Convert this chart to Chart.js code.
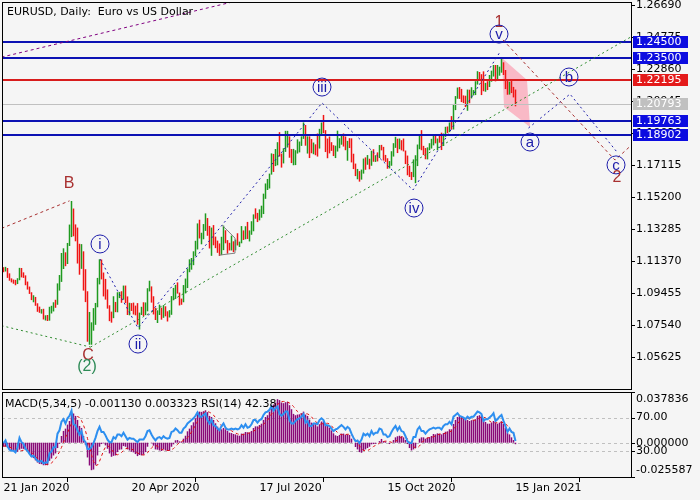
<!DOCTYPE html>
<html>
<head>
<meta charset="utf-8">
<script src="https://cdn.jsdelivr.net/npm/chart.js@4.4.1/dist/chart.umd.min.js"></script>
<style>
html, body { margin: 0; padding: 0; background: #f5f5f5; }
#wrap { position: relative; width: 700px; height: 500px; overflow: hidden; }
canvas { position: absolute; left: 0; }
#main { top: 0; }
#sub { top: 390px; }
</style>
</head>
<body>
<div id="wrap">
  <canvas id="main" width="700" height="390"></canvas>
  <canvas id="sub" width="700" height="110"></canvas>
</div>
<script>
// EURUSD daily, 21 Jan 2020 .. 15 Jan 2021 (one value per bar)
const dateLabels = ['21 Jan 2020', '20 Apr 2020', '17 Jul 2020', '15 Oct 2020', '15 Jan 2021'];
const dateTickIndex = [0, 64, 128, 192, 256];
const priceTicks = [1.05625, 1.07540, 1.09455, 1.11370, 1.13285, 1.15200, 1.17115, 1.19030, 1.20945, 1.22860, 1.24775, 1.26690];

const open = [
  1.1094,1.1083,1.1093,1.1054,1.1025,1.1020,1.1019,1.1008,1.1030,
  1.1093,1.1060,1.1044,1.0998,1.0981,1.0944,1.0910,1.0915,1.0874,1.0841,1.0830,1.0837,1.0790,1.0795,
  1.0789,1.0846,1.0854,1.0880,1.0880,1.0995,
  1.1026,1.1138,1.1174,1.1134,1.1237,1.1284,
  1.1450,1.1285,1.1270,1.1186,1.1106,1.1186,1.0990,1.0920,1.0690,1.0695,
  1.0720,1.0790,1.0880,1.1030,1.1140,1.1040,
  1.1030,1.0960,1.0855,1.0800,1.0795,1.0890,1.0855,1.0935,1.0940,1.0915,1.0985,1.0910,1.0840,
  1.0875,1.0860,1.0855,1.0820,1.0780,1.0820,1.0825,1.0820,1.0875,
  1.0955,1.0980,1.0905,1.0840,1.0795,1.0830,1.0840,1.0805,1.0850,1.0815,1.0805,
  1.0820,1.0915,1.0925,1.0975,1.0945,1.0900,1.0900,1.0980,1.1005,1.1075,
  1.1100,1.1135,1.1170,1.1235,1.1340,1.1290,1.1295,1.1340,1.1375,1.1300,
  1.1255,1.1325,1.1265,1.1245,1.1205,1.1175,1.1255,1.1310,1.1250,1.1220,1.1220,1.1245,
  1.1235,1.1250,1.1240,1.1245,1.1310,1.1275,1.1330,1.1285,1.1300,1.1340,1.1410,1.1410,1.1385,
  1.1430,1.1445,1.1525,1.1570,1.1595,1.1655,1.1750,1.1715,1.1790,1.1845,
  1.1775,1.1760,1.1800,1.1860,1.1875,1.1785,1.1735,1.1740,1.1785,1.1815,1.1840,1.1870,1.1930,1.1835,1.1860,1.1795,1.1795,1.1830,1.1830,1.1820,1.1905,
  1.1935,1.1915,1.1855,1.1850,1.1840,1.1815,1.1780,1.1800,1.1815,1.1845,1.1865,1.1845,1.1815,1.1850,1.1835,1.1770,1.1705,1.1660,1.1670,1.1630,1.1665,1.1745,
  1.1720,1.1745,1.1715,1.1780,1.1735,1.1760,1.1760,1.1825,1.1815,1.1745,1.1745,1.1705,1.1720,1.1780,1.1820,1.1860,1.1815,1.1860,1.1810,1.1795,1.1745,1.1675,
  1.1645,1.1640,1.1715,1.1720,1.1830,1.1875,1.1815,1.1810,1.1775,1.1810,1.1835,1.1855,1.1860,1.1850,1.1870,1.1860,1.1840,1.1890,1.1915,1.1915,1.1960,
  1.1925,1.2070,1.2115,1.2145,1.2120,1.2110,1.2100,1.2080,1.2130,1.2110,1.2145,1.2150,1.2195,1.2265,1.2255,1.2240,1.2160,1.2185,1.2185,1.2215,1.2250,1.2295,
  1.2215,1.2250,1.2295,1.2325,1.2270,1.2220,1.2150,1.2205,1.2155,1.2155
];
const high = [
  1.1100,1.1102,1.1095,1.1063,1.1033,1.1026,1.1024,1.1034,1.1096,
  1.1095,1.1069,1.1051,1.1014,1.0984,1.0950,1.0932,1.0922,1.0884,1.0864,1.0849,1.0851,1.0812,1.0814,
  1.0863,1.0869,1.0890,1.0905,1.1003,1.1053,
  1.1185,1.1213,1.1189,1.1245,1.1355,1.1496,
  1.1451,1.1356,1.1337,1.1240,1.1238,1.1195,1.1088,1.0956,1.0832,1.0770,
  1.0855,1.0886,1.1036,1.1147,1.1146,1.1068,
  1.1030,1.0967,1.0872,1.0834,1.0926,1.0892,1.0950,1.0952,1.0956,1.0990,1.0990,1.0925,1.0887,
  1.0885,1.0888,1.0870,1.0885,1.0828,1.0863,1.0890,1.0889,1.0974,
  1.1019,1.0985,1.0926,1.0857,1.0842,1.0876,1.0858,1.0873,1.0866,1.0836,1.0843,
  1.0927,1.0976,1.0994,1.1009,1.0948,1.0912,1.0993,1.1032,1.1092,1.1147,
  1.1155,1.1195,1.1258,1.1362,1.1384,1.1306,1.1358,1.1422,1.1394,1.1347,
  1.1337,1.1352,1.1283,1.1259,1.1242,1.1282,1.1349,1.1321,1.1262,1.1246,1.1289,1.1255,
  1.1265,1.1303,1.1253,1.1346,1.1320,1.1345,1.1371,1.1320,1.1375,1.1416,1.1452,1.1425,1.1446,
  1.1468,1.1540,1.1601,1.1628,1.1660,1.1781,1.1778,1.1807,1.1848,1.1908,
  1.1780,1.1812,1.1916,1.1916,1.1883,1.1807,1.1808,1.1800,1.1865,1.1852,1.1883,1.1966,1.1951,1.1883,1.1883,1.1867,1.1846,1.1835,1.1900,1.1928,1.1966,
  1.2011,1.1920,1.1870,1.1882,1.1848,1.1830,1.1827,1.1917,1.1872,1.1888,1.1900,1.1882,1.1856,1.1872,1.1871,1.1779,1.1720,1.1688,1.1675,1.1684,1.1750,1.1757,
  1.1771,1.1749,1.1797,1.1806,1.1770,1.1787,1.1831,1.1832,1.1820,1.1772,1.1752,1.1735,1.1794,1.1842,1.1880,1.1869,1.1870,1.1860,1.1870,1.1798,1.1768,1.1707,
  1.1670,1.1745,1.1770,1.1834,1.1891,1.1920,1.1826,1.1813,1.1817,1.1842,1.1868,1.1894,1.1891,1.1870,1.1890,1.1905,1.1900,1.1940,1.1942,1.1966,1.2004,
  1.2077,1.2124,1.2175,1.2178,1.2167,1.2128,1.2126,1.2163,1.2162,1.2177,1.2160,1.2213,1.2273,1.2268,1.2255,1.2272,1.2203,1.2213,1.2250,1.2276,1.2310,1.2310,
  1.2310,1.2300,1.2349,1.2326,1.2280,1.2221,1.2210,1.2222,1.2179,1.2163
];
const low = [
  1.1070,1.1074,1.1036,1.1019,1.1009,1.1001,1.0992,1.0999,1.1022,
  1.1039,1.1036,1.0992,1.0966,1.0940,1.0903,1.0890,1.0869,1.0833,1.0827,1.0822,1.0787,1.0781,1.0778,
  1.0780,1.0823,1.0835,1.0857,1.0875,1.0960,
  1.1012,1.1089,1.1106,1.1119,1.1227,1.1280,
  1.1285,1.1255,1.1122,1.1055,1.1090,1.0960,1.0891,1.0654,1.0636,1.0636,
  1.0720,1.0755,1.0860,1.0997,1.1027,1.0925,
  1.0906,1.0852,1.0777,1.0768,1.0795,1.0831,1.0830,1.0915,1.0887,1.0905,1.0885,1.0814,1.0812,
  1.0838,1.0817,1.0812,1.0756,1.0727,1.0814,1.0808,1.0813,1.0836,
  1.0955,1.0888,1.0817,1.0784,1.0766,1.0814,1.0786,1.0797,1.0806,1.0775,1.0799,
  1.0815,1.0902,1.0910,1.0942,1.0871,1.0875,1.0890,1.0943,1.0975,1.1070,
  1.1085,1.1112,1.1165,1.1206,1.1272,1.1237,1.1267,1.1317,1.1288,1.1212,
  1.1168,1.1231,1.1214,1.1186,1.1167,1.1172,1.1202,1.1243,1.1181,1.1200,1.1200,1.1190,
  1.1201,1.1230,1.1221,1.1243,1.1263,1.1267,1.1269,1.1254,1.1294,1.1315,1.1390,1.1370,1.1380,
  1.1396,1.1418,1.1509,1.1562,1.1571,1.1654,1.1670,1.1705,1.1710,1.1762,
  1.1696,1.1721,1.1790,1.1816,1.1755,1.1723,1.1710,1.1711,1.1780,1.1787,1.1826,1.1868,1.1827,1.1780,1.1753,1.1782,1.1776,1.1770,1.1762,1.1810,1.1890,
  1.1902,1.1789,1.1752,1.1781,1.1796,1.1765,1.1753,1.1792,1.1812,1.1833,1.1822,1.1800,1.1737,1.1813,1.1727,1.1687,1.1645,1.1626,1.1612,1.1624,1.1660,1.1683,
  1.1713,1.1686,1.1707,1.1731,1.1730,1.1733,1.1753,1.1799,1.1738,1.1730,1.1689,1.1691,1.1707,1.1762,1.1814,1.1783,1.1806,1.1799,1.1793,1.1717,1.1650,1.1640,
  1.1622,1.1639,1.1603,1.1705,1.1806,1.1800,1.1771,1.1746,1.1745,1.1800,1.1810,1.1829,1.1841,1.1800,1.1845,1.1801,1.1825,1.1880,1.1902,1.1908,1.1924,
  1.1924,1.2040,1.2108,1.2107,1.2088,1.2082,1.2058,1.2036,1.2081,1.2110,1.2128,1.2130,1.2193,1.2223,1.2130,1.2153,1.2150,1.2160,1.2178,1.2210,1.2241,1.2212,
  1.2215,1.2246,1.2264,1.2250,1.2166,1.2132,1.2133,1.2142,1.2116,1.2063
];
const close = [
  1.1083,1.1093,1.1054,1.1025,1.1020,1.1019,1.1008,1.1030,1.1093,
  1.1060,1.1044,1.0998,1.0981,1.0944,1.0910,1.0915,1.0874,1.0841,1.0830,1.0837,1.0790,1.0795,1.0789,
  1.0846,1.0854,1.0880,1.0880,1.0995,1.1026,
  1.1138,1.1174,1.1134,1.1237,1.1284,1.1450,
  1.1285,1.1270,1.1186,1.1106,1.1186,1.0990,1.0920,1.0690,1.0695,1.0720,
  1.0790,1.0880,1.1030,1.1140,1.1040,1.1030,
  1.0960,1.0855,1.0800,1.0795,1.0890,1.0855,1.0935,1.0940,1.0915,1.0985,1.0910,1.0840,1.0875,
  1.0860,1.0855,1.0820,1.0780,1.0820,1.0825,1.0820,1.0875,1.0955,
  1.0980,1.0905,1.0840,1.0795,1.0830,1.0840,1.0805,1.0850,1.0815,1.0805,1.0820,
  1.0915,1.0925,1.0975,1.0945,1.0900,1.0900,1.0980,1.1005,1.1075,1.1100,
  1.1135,1.1170,1.1235,1.1340,1.1290,1.1295,1.1340,1.1375,1.1300,1.1255,
  1.1325,1.1265,1.1245,1.1205,1.1175,1.1255,1.1310,1.1250,1.1220,1.1220,1.1245,1.1235,
  1.1250,1.1240,1.1245,1.1310,1.1275,1.1330,1.1285,1.1300,1.1340,1.1410,1.1410,1.1385,1.1430,
  1.1445,1.1525,1.1570,1.1595,1.1655,1.1750,1.1715,1.1790,1.1845,1.1775,
  1.1760,1.1800,1.1860,1.1875,1.1785,1.1735,1.1740,1.1785,1.1815,1.1840,1.1870,1.1930,1.1835,1.1860,1.1795,1.1795,1.1830,1.1830,1.1820,1.1905,1.1935,
  1.1915,1.1855,1.1850,1.1840,1.1815,1.1780,1.1800,1.1815,1.1845,1.1865,1.1845,1.1815,1.1850,1.1835,1.1770,1.1705,1.1660,1.1670,1.1630,1.1665,1.1745,1.1720,
  1.1745,1.1715,1.1780,1.1735,1.1760,1.1760,1.1825,1.1815,1.1745,1.1745,1.1705,1.1720,1.1780,1.1820,1.1860,1.1815,1.1860,1.1810,1.1795,1.1745,1.1675,1.1645,
  1.1640,1.1715,1.1720,1.1830,1.1875,1.1815,1.1810,1.1775,1.1810,1.1835,1.1855,1.1860,1.1850,1.1870,1.1860,1.1840,1.1890,1.1915,1.1915,1.1960,1.1925,
  1.2070,1.2115,1.2145,1.2120,1.2110,1.2100,1.2080,1.2130,1.2110,1.2145,1.2150,1.2195,1.2265,1.2255,1.2240,1.2160,1.2185,1.2185,1.2215,1.2250,1.2295,1.2215,
  1.2250,1.2295,1.2325,1.2270,1.2220,1.2150,1.2205,1.2155,1.2153,1.20793
];

// MACD(5,34,5) main (histogram), signal, RSI(14)
const macdMain = [
  -0.0030,-0.0029,-0.0035,-0.0045,-0.0055,-0.0062,-0.0068,-0.0068,-0.0052,
  -0.0045,-0.0046,-0.0055,-0.0068,-0.0085,-0.0105,-0.0115,-0.0132,-0.0148,-0.0158,-0.0160,-0.0168,-0.0168,-0.0167,
  -0.0135,-0.0118,-0.0095,-0.0080,-0.0040,-0.0008,
  0.0050,0.0088,0.0105,0.0135,0.0162,0.0225,
  0.0218,0.0200,0.0170,0.0125,0.0110,0.0050,-0.0015,-0.0110,-0.0170,-0.0205,
  -0.0200,-0.0165,-0.0095,-0.0030,-0.0010,-0.0005,
  -0.0020,-0.0045,-0.0080,-0.0105,-0.0098,-0.0095,-0.0070,-0.0052,-0.0050,-0.0025,-0.0030,-0.0050,-0.0058,
  -0.0068,-0.0072,-0.0085,-0.0100,-0.0092,-0.0095,-0.0090,-0.0070,-0.0030,
  0.0000,-0.0005,-0.0022,-0.0050,-0.0052,-0.0058,-0.0062,-0.0050,-0.0058,-0.0062,-0.0060,
  -0.0030,-0.0012,0.0018,0.0020,0.0010,0.0008,0.0030,0.0052,0.0085,0.0105,
  0.0130,0.0152,0.0182,0.0225,0.0232,0.0230,0.0235,0.0242,0.0228,0.0200,
  0.0192,0.0170,0.0145,0.0120,0.0095,0.0100,0.0110,0.0100,0.0088,0.0075,0.0072,0.0065,
  0.0062,0.0055,0.0052,0.0068,0.0068,0.0080,0.0078,0.0075,0.0088,0.0110,0.0122,0.0122,0.0132,
  0.0142,0.0170,0.0192,0.0205,0.0232,0.0270,0.0285,0.0300,0.0325,0.0318,
  0.0300,0.0295,0.0302,0.0305,0.0280,0.0250,0.0215,0.0205,0.0210,0.0212,0.0220,0.0232,0.0210,0.0200,0.0172,0.0150,0.0142,0.0138,0.0122,0.0138,0.0158,
  0.0160,0.0140,0.0128,0.0112,0.0092,0.0070,0.0055,0.0050,0.0058,0.0068,0.0068,0.0060,0.0062,0.0058,0.0030,0.0000,-0.0032,-0.0050,-0.0070,-0.0075,-0.0060,-0.0050,
  -0.0040,-0.0030,-0.0012,-0.0010,-0.0008,0.0000,0.0012,0.0028,0.0012,0.0010,0.0000,-0.0010,0.0002,0.0020,0.0040,0.0048,0.0052,0.0048,0.0040,0.0020,-0.0010,-0.0040,
  -0.0058,-0.0050,-0.0040,0.0000,0.0030,0.0040,0.0040,0.0030,0.0038,0.0042,0.0050,0.0065,0.0062,0.0070,0.0068,0.0062,0.0072,0.0082,0.0085,0.0100,0.0100,
  0.0140,0.0170,0.0192,0.0200,0.0192,0.0182,0.0172,0.0170,0.0162,0.0168,0.0170,0.0175,0.0200,0.0205,0.0200,0.0172,0.0155,0.0142,0.0142,0.0150,0.0162,0.0150,
  0.0142,0.0150,0.0160,0.0142,0.0110,0.0072,0.0062,0.0040,0.0020,-0.00113
];
const macdSignal = [
  -0.0025,-0.0026,-0.0028,-0.0032,-0.0039,-0.0045,-0.0053,-0.0060,-0.0061,
  -0.0059,-0.0056,-0.0053,-0.0053,-0.0060,-0.0072,-0.0086,-0.0101,-0.0117,-0.0132,-0.0143,-0.0153,-0.0160,-0.0164,
  -0.0160,-0.0151,-0.0137,-0.0119,-0.0094,-0.0068,
  -0.0035,0.0002,0.0039,0.0074,0.0108,0.0143,
  0.0169,0.0188,0.0195,0.0188,0.0165,0.0131,0.0088,0.0032,-0.0027,-0.0090,
  -0.0140,-0.0170,-0.0167,-0.0139,-0.0100,-0.0061,
  -0.0032,-0.0022,-0.0032,-0.0051,-0.0070,-0.0085,-0.0090,-0.0084,-0.0073,-0.0058,-0.0045,-0.0041,-0.0043,
  -0.0046,-0.0056,-0.0067,-0.0077,-0.0083,-0.0089,-0.0092,-0.0089,-0.0075,
  -0.0057,-0.0039,-0.0025,-0.0021,-0.0026,-0.0037,-0.0049,-0.0054,-0.0056,-0.0058,-0.0058,
  -0.0052,-0.0044,-0.0029,-0.0013,0.0001,0.0009,0.0017,0.0024,0.0037,0.0056,
  0.0080,0.0105,0.0131,0.0159,0.0184,0.0204,0.0221,0.0233,0.0233,0.0227,
  0.0219,0.0206,0.0187,0.0165,0.0144,0.0126,0.0114,0.0105,0.0099,0.0095,0.0089,0.0080,
  0.0072,0.0066,0.0061,0.0060,0.0061,0.0065,0.0069,0.0074,0.0078,0.0086,0.0095,0.0103,0.0115,
  0.0126,0.0138,0.0152,0.0168,0.0188,0.0214,0.0237,0.0258,0.0282,0.0300,
  0.0306,0.0308,0.0308,0.0304,0.0296,0.0286,0.0270,0.0251,0.0232,0.0218,0.0212,0.0216,0.0217,0.0215,0.0207,0.0193,0.0175,0.0160,0.0145,0.0138,0.0140,
  0.0143,0.0144,0.0145,0.0140,0.0126,0.0108,0.0091,0.0076,0.0065,0.0060,0.0060,0.0061,0.0063,0.0063,0.0056,0.0042,0.0024,0.0001,-0.0024,-0.0045,-0.0057,-0.0061,
  -0.0059,-0.0051,-0.0038,-0.0028,-0.0020,-0.0012,-0.0004,0.0004,0.0009,0.0012,0.0012,0.0008,0.0003,0.0004,0.0010,0.0020,0.0032,0.0042,0.0046,0.0042,0.0030,0.0012,
  -0.0010,-0.0028,-0.0040,-0.0038,-0.0024,-0.0004,0.0014,0.0028,0.0036,0.0038,0.0040,0.0045,0.0051,0.0058,0.0063,0.0065,0.0067,0.0071,0.0074,0.0080,0.0088,
  0.0101,0.0119,0.0140,0.0160,0.0179,0.0187,0.0188,0.0183,0.0176,0.0171,0.0168,0.0169,0.0175,0.0184,0.0190,0.0190,0.0186,0.0175,0.0162,0.0152,0.0150,0.0149,
  0.0149,0.0151,0.0153,0.0149,0.0141,0.0127,0.0109,0.0085,0.0061,0.003323
];
const rsi = [
  40,43,36,32,31,31,29,35,46,
  41,39,33,31,27,24,25,22,19,18,19,16,17,17,
  28,30,35,35,51,55,
  65,68,63,69,72,78,
  62,61,55,50,54,44,41,33,33,35,
  40,46,54,59,53,53,
  49,44,41,41,47,45,50,50,48,52,48,44,46,
  45,45,43,41,44,44,44,48,54,
  55,50,46,43,46,47,45,48,46,45,46,
  53,54,57,55,52,52,57,59,63,65,
  67,69,72,76,71,71,73,75,67,63,
  67,61,60,57,55,60,63,58,56,56,57,56,
  57,56,57,61,58,62,58,59,62,67,67,64,67,
  68,73,76,77,79,83,78,81,83,74,
  72,74,77,77,67,63,63,66,68,69,71,74,64,66,60,60,63,63,62,67,69,
  67,61,61,60,57,54,56,57,59,61,59,56,59,57,51,46,42,43,40,44,51,49,
  51,48,54,50,52,52,57,56,50,50,47,48,53,57,60,55,59,54,53,48,42,40,
  40,47,47,56,59,54,54,51,54,56,57,58,57,58,58,56,60,62,62,65,62,
  71,73,75,72,71,70,68,71,69,71,71,74,77,76,74,66,68,68,70,72,75,66,
  68,71,73,66,60,53,57,53,52,42.38
];
const macdTicks = [-0.025587, 0, 0.037836];
const rsiTicks = [30, 70];

// horizontal levels and wave mark-up, as (bar index, price)
const levelPrices = [1.24500, 1.23500, 1.22195, 1.20793, 1.19763, 1.18902];
const levelKinds = ['blue', 'blue', 'red', 'gray', 'blue', 'blue'];
const impulsePath = [[48.25, 1.1149], [67.25, 1.0736], [159.25, 1.2083], [204.75, 1.1562], [248.25, 1.2388]];
const abcPath = [[262.5, 1.1933], [283.25, 1.2136], [306.75, 1.1789]];
const wave2Path = [[249.75, 1.2460], [305.75, 1.1741], [313, 1.1820]];
const bLine = [[-1, 1.1332], [33, 1.1497]];
const purpleLine = [[-1, 1.2357], [120, 1.2703]];
const greenLow = [[-1, 1.0750], [43.5, 1.0622]];
const greenTrend = [[43.5, 1.0622], [314, 1.2480]];
const pinkZone = [[249.25, 1.2352], [261.75, 1.2220], [263.25, 1.1939], [250.25, 1.2059]];
const grayShape = [[109.25, 1.1352], [115.75, 1.1274], [115.75, 1.1184], [107.75, 1.1172]];
const waveLabels = [
  ['1', 247.75, 1.2561, 'brown'], ['v', 247.75, 1.2495, 'circle'], ['iii', 159.25, 1.2178, 'circle'],
  ['iv', 205.25, 1.1454, 'circle'], ['ii', 67.25, 1.0640, 'circle'], ['i', 48.25, 1.1239, 'circle'],
  ['a', 263.25, 1.1849, 'circle'], ['b', 282.75, 1.2238, 'circle'], ['c', 306.25, 1.1712, 'circle'],
  ['2', 306.75, 1.1634, 'brown'], ['B', 32.75, 1.1598, 'brown'], ['C', 42.25, 1.0569, 'brown'],
  ['(2)', 41.75, 1.0503, 'green']
];

const X_MIN = -0.75, X_MAX = 313.75;
const UP = '#1f9a1f', DOWN = '#f01414';
const NAVY = '#1c1caa', BROWN = '#a83030';
const LEVEL_LINE = { blue: '#0c12b4', red: '#d81c1c', gray: '#c0c0c0' };
const LEVEL_BOX = { blue: '#0c0ce0', red: '#e41a1a', gray: '#c0c0c0' };

Chart.defaults.font.family = 'DejaVu Sans';
Chart.defaults.font.size = 11;
Chart.defaults.color = '#000';

function toPx(chart, p) {
  return [chart.scales.x.getPixelForValue(p[0]), chart.scales.y.getPixelForValue(p[1])];
}
function polyline(ctx, chart, pts, color, dash) {
  ctx.beginPath();
  pts.forEach((p, k) => {
    const [x, y] = toPx(chart, p);
    if (k) ctx.lineTo(x, y); else ctx.moveTo(x, y);
  });
  ctx.strokeStyle = color;
  ctx.lineWidth = 1;
  ctx.setLineDash(dash);
  ctx.stroke();
}
function clipArea(ctx, a) {
  ctx.beginPath();
  ctx.rect(a.left, a.top, a.right - a.left, a.bottom - a.top);
  ctx.clip();
}

const mainDecor = {
  id: 'mainDecor',
  beforeDatasetsDraw(chart) {
    const { ctx, chartArea } = chart;
    ctx.save();
    clipArea(ctx, chartArea);
    ctx.beginPath();
    pinkZone.forEach((p, k) => {
      const [x, y] = toPx(chart, p);
      if (k) ctx.lineTo(x, y); else ctx.moveTo(x, y);
    });
    ctx.closePath();
    ctx.fillStyle = '#f9b9c6';
    ctx.fill();
    ctx.restore();
  },
  afterDatasetsDraw(chart) {
    const { ctx, chartArea, scales } = chart;
    ctx.save();
    clipArea(ctx, chartArea);
    // levels
    levelPrices.forEach((v, i) => {
      const kind = levelKinds[i];
      const y = Math.round(scales.y.getPixelForValue(v));
      ctx.fillStyle = LEVEL_LINE[kind];
      if (kind === 'gray') ctx.fillRect(chartArea.left, y, chartArea.right - chartArea.left, 1);
      else ctx.fillRect(chartArea.left, y - 1, chartArea.right - chartArea.left, 2);
    });
    polyline(ctx, chart, purpleLine, '#800080', [3, 3]);
    polyline(ctx, chart, bLine, BROWN, [3, 3]);
    polyline(ctx, chart, greenLow, '#2e8b2e', [2, 3]);
    polyline(ctx, chart, greenTrend, '#2e8b2e', [2, 3]);
    polyline(ctx, chart, impulsePath, NAVY, [2, 3]);
    polyline(ctx, chart, abcPath, NAVY, [2, 3]);
    polyline(ctx, chart, wave2Path, BROWN, [3, 3]);
    polyline(ctx, chart, grayShape, '#808080', []);
    // wave labels
    ctx.setLineDash([]);
    ctx.textAlign = 'center';
    ctx.textBaseline = 'middle';
    waveLabels.forEach(([t, i, p, kind]) => {
      const [x, y] = toPx(chart, [i, p]);
      if (kind === 'circle') {
        ctx.beginPath();
        ctx.arc(x, y, 9, 0, Math.PI * 2);
        ctx.strokeStyle = NAVY;
        ctx.lineWidth = 1;
        ctx.stroke();
        ctx.fillStyle = NAVY;
        ctx.font = '15px "Liberation Sans"';
        ctx.fillText(t, x, y + 1);
      } else {
        ctx.fillStyle = kind === 'green' ? '#2e8b57' : BROWN;
        ctx.font = '16px "Liberation Sans"';
        ctx.fillText(t, x, y);
      }
    });
    ctx.restore();
  },
  afterDraw(chart) {
    const { ctx, chartArea: a, scales } = chart;
    ctx.save();
    ctx.strokeStyle = '#000';
    ctx.lineWidth = 1;
    ctx.strokeRect(a.left + 0.5, a.top + 0.5, a.right - a.left, a.bottom - a.top);
    // price boxes on the axis
    ctx.font = '11px "DejaVu Sans"';
    ctx.textAlign = 'left';
    ctx.textBaseline = 'middle';
    levelPrices.forEach((v, i) => {
      const kind = levelKinds[i];
      const y = Math.round(scales.y.getPixelForValue(v));
      ctx.fillStyle = LEVEL_BOX[kind];
      ctx.fillRect(a.right + 2, y - 6, 55, 12);
      ctx.fillStyle = '#fff';
      ctx.fillText(v.toFixed(5), a.right + 5, y);
    });
    ctx.fillStyle = '#000';
    ctx.fillText('EURUSD, Daily:  Euro vs US Dollar', a.left + 5, a.top + 10);
    ctx.restore();
  }
};

new Chart(document.getElementById('main'), {
  type: 'bar',
  data: {
    datasets: [{
      data: high.map((h, i) => ({ x: i, y: [low[i], h] })),
      backgroundColor: close.map((c, i) => (c > open[i] ? UP : DOWN)),
      barThickness: 1.5,
      borderWidth: 0,
      inflateAmount: 0,
      grouped: false
    }]
  },
  options: {
    responsive: false,
    devicePixelRatio: 1,
    animation: false,
    layout: { padding: { left: 2, top: 2, right: 0, bottom: 1 } },
    plugins: { legend: { display: false }, tooltip: { enabled: false } },
    scales: {
      x: { type: 'linear', min: X_MIN, max: X_MAX, offset: false, display: false },
      y: {
        type: 'linear',
        position: 'right',
        min: 1.0371,
        max: 1.2687,
        afterBuildTicks: s => { s.ticks = priceTicks.map(v => ({ value: v })); },
        afterFit: s => { s.width = 69; s.paddingTop = 0; s.paddingBottom = 0; },
        ticks: { autoSkip: false, padding: 1, callback: v => v.toFixed(5) },
        grid: { drawOnChartArea: false, tickLength: 4, color: '#000' },
        border: { display: false }
      }
    }
  },
  plugins: [mainDecor]
});

const subDecor = {
  id: 'subDecor',
  beforeDatasetsDraw(chart) {
    const { ctx, chartArea: a, scales } = chart;
    ctx.save();
    ctx.strokeStyle = '#c0c0c0';
    ctx.lineWidth = 1;
    ctx.setLineDash([3, 3]);
    [scales.yR.getPixelForValue(70), scales.yR.getPixelForValue(30), scales.yM.getPixelForValue(0)].forEach(y => {
      const yy = Math.round(y) + 0.5;
      ctx.beginPath();
      ctx.moveTo(a.left, yy);
      ctx.lineTo(a.right, yy);
      ctx.stroke();
    });
    ctx.restore();
  },
  afterDraw(chart) {
    const { ctx, chartArea: a, scales } = chart;
    ctx.save();
    ctx.strokeStyle = '#000';
    ctx.lineWidth = 1;
    ctx.strokeRect(a.left + 0.5, a.top + 0.5, a.right - a.left, a.bottom - a.top);
    ctx.font = '11px "DejaVu Sans"';
    ctx.fillStyle = '#000';
    ctx.textAlign = 'left';
    ctx.textBaseline = 'middle';
    ctx.fillText('MACD(5,34,5) -0.001130 0.003323 RSI(14) 42.38', a.left + 3, a.top + 12);
    const marks = [];
    macdTicks.forEach(v => {
      const y = scales.yM.getPixelForValue(v);
      let base = 'middle', ty = y;
      if (v === scales.yM.max) { base = 'top'; ty = a.top + 2; }
      if (v === scales.yM.min) { base = 'bottom'; ty = a.bottom - 1; }
      marks.push([y, v.toFixed(6), base, ty]);
    });
    rsiTicks.forEach(v => {
      const y = scales.yR.getPixelForValue(v);
      marks.push([y, v.toFixed(2), 'middle', y]);
    });
    marks.forEach(([y, txt, base, ty]) => {
      const yy = Math.round(y) + 0.5;
      ctx.beginPath();
      ctx.moveTo(a.right, yy);
      ctx.lineTo(a.right + 4, yy);
      ctx.stroke();
      ctx.textBaseline = base;
      ctx.fillText(txt, a.right + 5, ty);
    });
    ctx.restore();
  }
};

const idx = macdMain.map((v, i) => i);
new Chart(document.getElementById('sub'), {
  type: 'bar',
  data: {
    datasets: [
      {
        type: 'line',
        data: idx.map(i => ({ x: i, y: rsi[i] })),
        yAxisID: 'yR',
        borderColor: '#2d8ff0',
        borderWidth: 2,
        pointRadius: 0,
        tension: 0,
        order: 1
      },
      {
        type: 'line',
        data: idx.map(i => ({ x: i, y: macdSignal[i] })),
        yAxisID: 'yM',
        borderColor: '#e01010',
        borderWidth: 1,
        borderDash: [3, 3],
        pointRadius: 0,
        tension: 0,
        order: 2
      },
      {
        type: 'bar',
        data: idx.map(i => ({ x: i, y: macdMain[i] })),
        yAxisID: 'yM',
        backgroundColor: '#8a0a78',
        barThickness: 1.5,
        borderWidth: 0,
        inflateAmount: 0,
        grouped: false,
        order: 3
      }
    ]
  },
  options: {
    responsive: false,
    devicePixelRatio: 1,
    animation: false,
    layout: { padding: { left: 2, top: 2, right: 69, bottom: 0 } },
    plugins: { legend: { display: false }, tooltip: { enabled: false } },
    scales: {
      x: {
        type: 'linear',
        min: X_MIN,
        max: X_MAX,
        offset: false,
        afterBuildTicks: s => { s.ticks = dateTickIndex.map(v => ({ value: v })); },
        afterFit: s => { s.height = 23; s.paddingLeft = 0; s.paddingRight = 0; },
        ticks: { autoSkip: false, maxRotation: 0, align: 'start', padding: 0, callback: (v, i) => dateLabels[i] },
        grid: { drawOnChartArea: false, tickLength: 5, color: '#000' },
        border: { display: false }
      },
      yM: { type: 'linear', min: -0.025587, max: 0.037836, display: false },
      yR: { type: 'linear', min: 0, max: 100, display: false }
    }
  },
  plugins: [subDecor]
});
</script>
</body>
</html>
